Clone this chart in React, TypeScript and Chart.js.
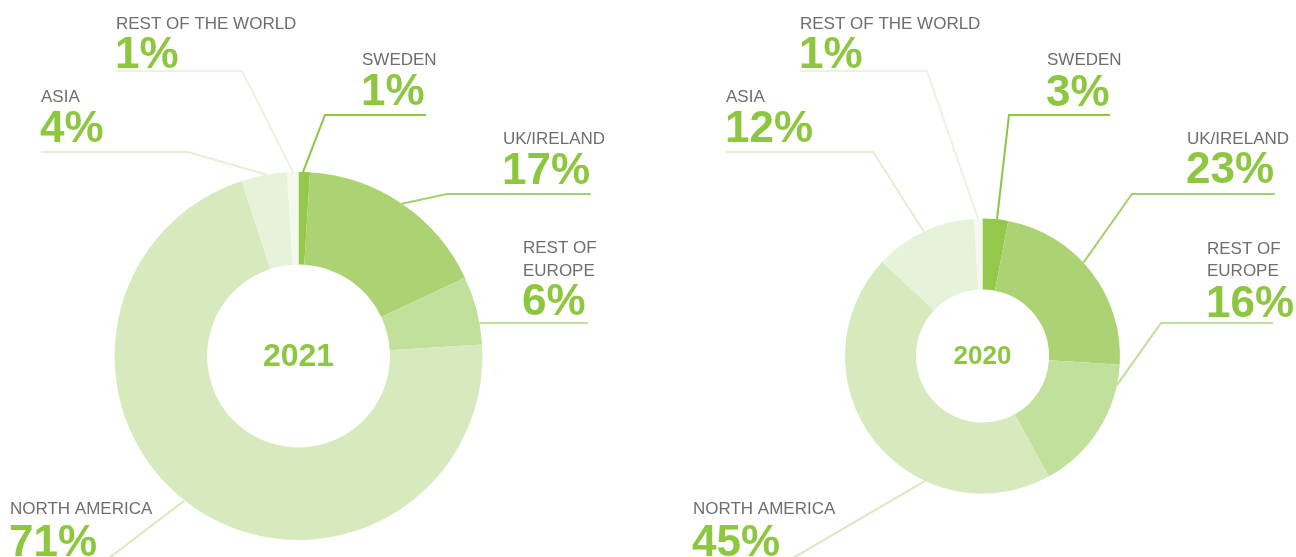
import React, { useEffect, useRef } from "react";
import { Chart, registerables } from "chart.js";

Chart.register(...registerables);

const regions = ["SWEDEN", "UK/IRELAND", "REST OF EUROPE", "NORTH AMERICA", "ASIA", "REST OF THE WORLD"];
const nameLines = [["SWEDEN"], ["UK/IRELAND"], ["REST OF", "EUROPE"], ["NORTH AMERICA"], ["ASIA"], ["REST OF THE WORLD"]];
const share2021 = [1, 17, 6, 71, 4, 1];
const share2020 = [3, 23, 16, 45, 12, 1];
const sliceColors = ["#93c84a", "#acd373", "#c1e09b", "#d6eabd", "#e7f2da", "#f4f9ee"];
const lineColors = ["#8dc63f", "#a6d06a", "#bfde97", "#d6eabd", "#e3f0d3", "#e9f4df"];

const GREEN = "#8dc63f";
const GRAY = "#6d6e70";
const W = 648;
const H = 557;

type LabelPos = {
  x: number; nameY: number[]; pctY: number;
  lineY: number; elbowX: number; endX: number;
  frac: number; rf: number;
};

const layout2021: LabelPos[] = [
  { x: 362, nameY: [65], pctY: 105, lineY: 115, elbowX: 325, endX: 426, frac: 0.39, rf: 1.0 },
  { x: 503, nameY: [144], pctY: 184, lineY: 194, elbowX: 447, endX: 591, frac: 0.5, rf: 1.0 },
  { x: 523, nameY: [253, 276], pctY: 315, lineY: 323, elbowX: 480, endX: 588, frac: 0.69, rf: 1.0 },
  { x: 10, nameY: [514], pctY: 556, lineY: 565, elbowX: 100, endX: 100, frac: 0.516, rf: 1.0 },
  { x: 41, nameY: [102], pctY: 142, lineY: 152, elbowX: 188, endX: 41, frac: 0.56, rf: 1.0 },
  { x: 116, nameY: [29], pctY: 68, lineY: 71, elbowX: 242, endX: 116, frac: 0.53, rf: 1.0 },
];

const layout2020: LabelPos[] = [
  { x: 1047, nameY: [65], pctY: 106, lineY: 115, elbowX: 1009, endX: 1110, frac: 0.56, rf: 1.0 },
  { x: 1187, nameY: [144], pctY: 183, lineY: 194, elbowX: 1132, endX: 1275, frac: 0.44, rf: 1.0 },
  { x: 1207, nameY: [254, 276], pctY: 317, lineY: 323, elbowX: 1161, endX: 1273, frac: 0.15, rf: 1.0 },
  { x: 693, nameY: [514], pctY: 556, lineY: 565, elbowX: 781, endX: 781, frac: 0.33, rf: 1.0 },
  { x: 726, nameY: [102], pctY: 142, lineY: 152, elbowX: 873, endX: 726, frac: 0.5, rf: 1.0 },
  { x: 800, nameY: [29], pctY: 68, lineY: 71, elbowX: 927, endX: 800, frac: 0.47, rf: 1.0 },
];

type Cfg = {
  values: number[]; year: string; layout: LabelPos[]; offsetX: number;
  padding: { left: number; right: number; top: number; bottom: number };
  cutout: string; yearFont: number;
};

function makeLabelPlugin(cfg: Cfg) {
  return {
    id: "labels" + cfg.year,
    afterDraw(chart: any) {
      const ctx = chart.ctx as CanvasRenderingContext2D;
      const meta = chart.getDatasetMeta(0);
      ctx.save();
      meta.data.forEach((arc: any, i: number) => {
        const L = cfg.layout[i];
        const p = arc.getProps(["x", "y", "startAngle", "endAngle", "outerRadius"], true);
        const a = p.startAngle + L.frac * (p.endAngle - p.startAngle);
        const r = p.outerRadius * L.rf;
        const ax = p.x + r * Math.cos(a);
        const ay = p.y + r * Math.sin(a);
        const ox = cfg.offsetX;
        ctx.strokeStyle = lineColors[i];
        ctx.lineWidth = 2;
        ctx.beginPath();
        ctx.moveTo(ax, ay);
        ctx.lineTo(L.elbowX - ox, L.lineY);
        ctx.lineTo(L.endX - ox, L.lineY);
        ctx.stroke();

        ctx.textAlign = "left";
        ctx.textBaseline = "alphabetic";
        ctx.fillStyle = GRAY;
        ctx.font = "17px 'Liberation Sans', Arial, sans-serif";
        nameLines[i].forEach((t, k) => ctx.fillText(t, L.x - ox, L.nameY[k]));
        ctx.fillStyle = GREEN;
        ctx.font = "bold 44px 'Liberation Sans', Arial, sans-serif";
        ctx.fillText(cfg.values[i] + "%", L.x - ox - 1, L.pctY);
      });
      const first = meta.data[0];
      if (first) {
        ctx.fillStyle = GREEN;
        ctx.font = `bold ${cfg.yearFont}px 'Liberation Sans', Arial, sans-serif`;
        ctx.textAlign = "center";
        ctx.textBaseline = "middle";
        ctx.fillText(cfg.year, first.x, first.y + 1);
      }
      ctx.restore();
    },
  };
}

function Donut({ cfg }: { cfg: Cfg }) {
  const ref = useRef<HTMLCanvasElement | null>(null);
  useEffect(() => {
    if (!ref.current) return;
    const chart = new Chart(ref.current, {
      type: "doughnut",
      data: {
        labels: regions,
        datasets: [
          {
            data: cfg.values,
            backgroundColor: sliceColors,
            borderWidth: 0,
          },
        ],
      },
      options: {
        responsive: false,
        animation: false,
        cutout: cfg.cutout,
        layout: { padding: cfg.padding },
        plugins: { legend: { display: false }, tooltip: { enabled: false } },
      },
      plugins: [makeLabelPlugin(cfg)],
    } as any);
    return () => chart.destroy();
  }, [cfg]);
  return (
    <canvas
      ref={ref}
      width={W}
      height={H}
      style={{ position: "absolute", left: cfg.offsetX, top: 0, width: W, height: H, display: "block" }}
    />
  );
}

const cfg2021: Cfg = {
  values: share2021, year: "2021", layout: layout2021, offsetX: 0,
  padding: { left: 114.5, right: 165.5, top: 172, bottom: 17 },
  cutout: "49.7%", yearFont: 32,
};
const cfg2020: Cfg = {
  values: share2020, year: "2020", layout: layout2020, offsetX: W,
  padding: { left: 197, right: 176, top: 218.5, bottom: 63.5 },
  cutout: "48.4%", yearFont: 26,
};

export default function App() {
  return (
    <div style={{ position: "absolute", left: 0, top: 0, width: 1296, height: 557, background: "#fff", overflow: "hidden" }}>
      <Donut cfg={cfg2021} />
      <Donut cfg={cfg2020} />
    </div>
  );
}
